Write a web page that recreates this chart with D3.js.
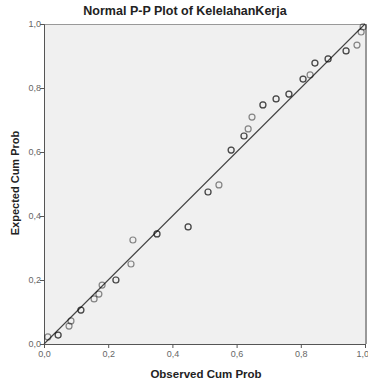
<!DOCTYPE html>
<html lang="en">
<head>
    <meta charset="UTF-8">
    <title>Normal P-P Plot</title>
    <script src="https://d3js.org/d3.v7.min.js"></script>
    <style>
        body { margin: 0; background: #fff; }
        text { font-family: "Liberation Sans", Arial, sans-serif; }
    </style>
</head>
<body>
    <div id="chart"></div>
    <script>
        // observed vs expected cumulative probabilities (ties listed twice)
        const observed = [0.012, 0.044, 0.044, 0.078, 0.084, 0.115, 0.115, 0.156, 0.171, 0.181,
            0.224, 0.224, 0.271, 0.277, 0.352, 0.352, 0.449, 0.449, 0.511, 0.511, 0.545,
            0.583, 0.583, 0.623, 0.623, 0.636, 0.648, 0.682, 0.682, 0.723, 0.723, 0.763, 0.763,
            0.807, 0.807, 0.829, 0.844, 0.844, 0.885, 0.885, 0.941, 0.941, 0.975, 0.988, 0.994];
        const expected = [0.022, 0.028, 0.028, 0.056, 0.072, 0.106, 0.106, 0.141, 0.156, 0.184,
            0.2, 0.2, 0.25, 0.325, 0.344, 0.344, 0.366, 0.366, 0.475, 0.475, 0.497,
            0.606, 0.606, 0.65, 0.65, 0.672, 0.709, 0.747, 0.747, 0.766, 0.766, 0.781, 0.781,
            0.828, 0.828, 0.841, 0.878, 0.878, 0.891, 0.891, 0.916, 0.916, 0.934, 0.975, 0.991];
        const tickValues = [0, 0.2, 0.4, 0.6, 0.8, 1.0];
        const tickLabels = ["0,0", "0,2", "0,4", "0,6", "0,8", "1,0"];

        const width = 368, height = 383;
        const plotLeft = 44, plotRight = 365, plotTop = 24, plotBottom = 344;

        const svg = d3.select('#chart').append('svg')
            .attr('width', width)
            .attr('height', height);

        const x = d3.scaleLinear().domain([0, 1]).range([plotLeft, plotRight]);
        const y = d3.scaleLinear().domain([0, 1]).range([plotBottom, plotTop]);

        // plot background
        svg.append('rect')
            .attr('x', plotLeft).attr('y', plotTop)
            .attr('width', plotRight - plotLeft).attr('height', plotBottom - plotTop)
            .attr('fill', '#f0f0f0');

        // top and right frame
        svg.append('line')
            .attr('x1', plotLeft).attr('x2', plotRight).attr('y1', plotTop + 0.5).attr('y2', plotTop + 0.5)
            .attr('stroke', '#999');
        svg.append('line')
            .attr('x1', plotRight + 1).attr('x2', plotRight + 1).attr('y1', plotTop).attr('y2', plotBottom)
            .attr('stroke', '#999').attr('stroke-width', 2);

        // axes
        const xAxis = svg.append('g')
            .attr('transform', `translate(0,${plotBottom})`)
            .call(d3.axisBottom(x).tickValues(tickValues).tickSize(4)
                .tickFormat((d, i) => tickLabels[i]));
        const yAxis = svg.append('g')
            .attr('transform', `translate(${plotLeft},0)`)
            .call(d3.axisLeft(y).tickValues(tickValues).tickSize(4)
                .tickFormat((d, i) => tickLabels[i]));

        [xAxis, yAxis].forEach(g => {
            g.select('.domain').attr('stroke', '#555');
            g.selectAll('.tick line').attr('stroke', '#555');
            g.selectAll('.tick text')
                .attr('fill', '#666')
                .attr('font-size', 9)
                .attr('font-family', '"Liberation Sans", Arial, sans-serif');
        });
        yAxis.selectAll('.tick text').attr('x', -3);
        // last x label sits on the window edge, as in the original
        xAxis.selectAll('.tick text').filter(d => d === 1).attr('dx', '-0.3em');

        // reference line
        svg.append('line')
            .attr('x1', x(0)).attr('y1', y(0))
            .attr('x2', x(1)).attr('y2', y(1))
            .attr('stroke', '#444')
            .attr('stroke-width', 1.1);

        // points
        svg.append('g').selectAll('circle')
            .data(observed.map((o, i) => [o, expected[i]]))
            .enter()
            .append('circle')
            .attr('cx', d => x(d[0]))
            .attr('cy', d => y(d[1]))
            .attr('r', 3)
            .attr('fill', 'none')
            .attr('stroke', 'rgba(0,0,0,0.45)')
            .attr('stroke-width', 1.2);

        // title and axis labels
        svg.append('text')
            .attr('x', 185).attr('y', 15)
            .attr('text-anchor', 'middle')
            .attr('font-size', 12.5).attr('font-weight', 'bold')
            .attr('fill', '#222')
            .text('Normal P-P Plot of KelelahanKerja');

        svg.append('text')
            .attr('x', 206).attr('y', 378)
            .attr('text-anchor', 'middle')
            .attr('font-size', 11.5).attr('font-weight', 'bold')
            .attr('fill', '#222')
            .text('Observed Cum Prob');

        svg.append('text')
            .attr('transform', 'translate(19,183) rotate(-90)')
            .attr('text-anchor', 'middle')
            .attr('font-size', 11).attr('font-weight', 'bold')
            .attr('fill', '#222')
            .text('Expected Cum Prob');
    </script>
</body>
</html>
